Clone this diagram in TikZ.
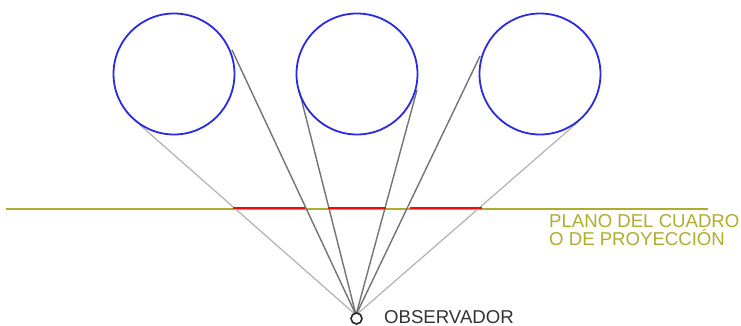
\documentclass[tikz,border=0pt]{standalone}
\usepackage{fontspec}
\setmainfont{Liberation Sans}
\definecolor{circ}{HTML}{2A2AE0}
\definecolor{planecol}{HTML}{B0AC30}
\definecolor{redl}{HTML}{E81008}
\tikzset{x=1pt,y=-1pt,
 ball/.style={circle,draw=circ,line width=1.8pt,minimum size=121pt,inner sep=0pt},
 dark/.style={draw=black!55,line width=1.4pt},
 light/.style={draw=black!30,line width=1.2pt},
 lab/.style={inner sep=0pt,anchor=base west,font=\fontsize{18.6}{20}\selectfont}}
\begin{document}
\begin{tikzpicture}
\useasboundingbox (0,0) rectangle (741,326);
\fill[white] (0,0) rectangle (741,326);
\coordinate (obs) at (356,315);
\coordinate (hl) at (6,209);
\coordinate (hr) at (708,209);
\coordinate (a1) at (140,125);
\coordinate (a2) at (232,50);
\coordinate (b1) at (299,90);
\coordinate (b2) at (417,90);
\coordinate (c1) at (480,56);
\coordinate (c2) at (578,122);
\coordinate (r1a) at (233,208);
\coordinate (r1b) at (305,208);
\coordinate (r2a) at (328,208);
\coordinate (r2b) at (386,208);
\coordinate (r3a) at (410,208);
\coordinate (r3b) at (482,208);
\draw[planecol,line width=1.8pt] (hl) -- (hr);
\draw[light] (a1) -- (obs);
\draw[light] (c2) -- (obs);
\draw[dark] (a2) -- (obs);
\draw[dark] (b1) -- (obs);
\draw[dark] (b2) -- (obs);
\draw[dark] (c1) -- (obs);
\draw[redl,line width=2.4pt] (r1a) -- (r1b);
\draw[redl,line width=2.4pt] (r2a) -- (r2b);
\draw[redl,line width=2.4pt] (r3a) -- (r3b);
\node[ball] (c1n) at (174,74) {};
\node[ball] (c2n) at (357,74) {};
\node[ball] (c3n) at (540,74) {};
\node[circle,draw=black!85,line width=1.6pt,fill=white,minimum size=11pt,inner sep=0pt] (o) at (356.5,318.5) {};
\node[lab,text=black!80] (ot) at (384,323) {OBSERVADOR};
\node[lab,text=planecol] (p1) at (549,227) {PLANO DEL CUADRO};
\node[lab,text=planecol] (p2) at (549,245) {O DE PROYECCIÓN};
\end{tikzpicture}
\end{document}
